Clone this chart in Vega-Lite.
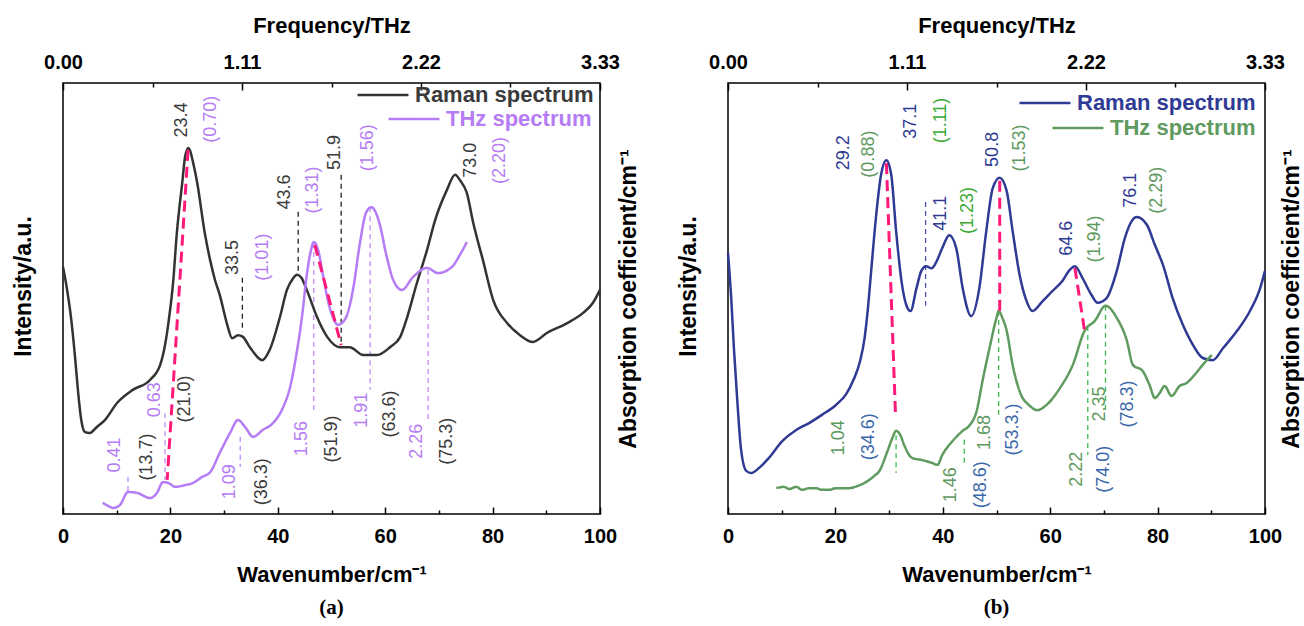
{
  "$schema": "https://vega.github.io/schema/vega-lite/v6.json",
  "background": "white",
  "padding": {"left": 11, "top": 13, "right": 0, "bottom": 0},
  "config": {
    "font": "Liberation Sans",
    "view": {"stroke": "black", "strokeWidth": 1.5},
    "axis": {"grid": false, "domain": false, "labelColor": "black", "titleColor": "black", "tickColor": "black", "tickWidth": 1.5, "labelFont": "Liberation Sans", "titleFont": "Liberation Sans", "labelFlush": false, "labelOverlap": false},
    "legend": {"labelFont": "Liberation Sans", "labelLimit": 0, "padding": 0},
    "concat": {"spacing": 35}
  },
  "datasets": {
    "a_raman": [
      {"wn":0,"y":57.3},{"wn":0.7,"y":52.5},{"wn":1.5,"y":45.5},{"wn":2.2,"y":37.0},{"wn":2.8,"y":28.5},{"wn":3.4,"y":21.8},{"wn":4.1,"y":19.0},{"wn":5.0,"y":18.8},{"wn":6.3,"y":20.2},{"wn":7.8,"y":21.8},{"wn":10.1,"y":25.8},{"wn":13.0,"y":28.8},{"wn":16.2,"y":31.1},{"wn":18.1,"y":34.6},{"wn":19.0,"y":39.2},{"wn":19.7,"y":45.0},{"wn":20.5,"y":53.6},{"wn":21.2,"y":65.2},{"wn":22.2,"y":76.8},{"wn":22.7,"y":82.6},{"wn":23.3,"y":84.9},{"wn":23.6,"y":84.5},{"wn":24.2,"y":81.7},{"wn":25.0,"y":76.8},{"wn":26.4,"y":65.2},{"wn":27.4,"y":58.9},{"wn":28.3,"y":54.3},{"wn":29.2,"y":50.8},{"wn":30.5,"y":44.3},{"wn":31.5,"y":40.8},{"wn":32.6,"y":41.5},{"wn":33.5,"y":41.1},{"wn":34.8,"y":38.7},{"wn":37.1,"y":35.7},{"wn":38.5,"y":38.1},{"wn":40.4,"y":45.7},{"wn":41.7,"y":52.0},{"wn":42.8,"y":54.6},{"wn":43.6,"y":55.5},{"wn":44.4,"y":54.8},{"wn":45.4,"y":52.0},{"wn":47.3,"y":45.7},{"wn":49.2,"y":41.1},{"wn":51.6,"y":38.7},{"wn":53.4,"y":38.7},{"wn":55.9,"y":36.9},{"wn":58.5,"y":36.9},{"wn":60.9,"y":38.7},{"wn":62.8,"y":41.1},{"wn":64.1,"y":45.7},{"wn":65.9,"y":53.6},{"wn":67.8,"y":61.3},{"wn":69.3,"y":68.2},{"wn":71.5,"y":75.2},{"wn":73.0,"y":78.7},{"wn":73.9,"y":77.5},{"wn":75.2,"y":74.5},{"wn":76.4,"y":67.5},{"wn":78.2,"y":58.9},{"wn":80.1,"y":49.7},{"wn":82.7,"y":44.3},{"wn":85.1,"y":41.5},{"wn":87.5,"y":39.9},{"wn":90.1,"y":42.0},{"wn":93.9,"y":44.3},{"wn":96.8,"y":46.6},{"wn":98.7,"y":49.0},{"wn":100,"y":52.0}
    ],
    "a_thz": [
      {"wn":7.4,"y":2.6},{"wn":8.4,"y":1.9},{"wn":9.3,"y":1.4},{"wn":10.6,"y":2.1},{"wn":12.1,"y":5.1},{"wn":13.8,"y":4.9},{"wn":16.2,"y":3.7},{"wn":17.5,"y":4.9},{"wn":18.6,"y":7.4},{"wn":19.6,"y":7.2},{"wn":20.9,"y":6.3},{"wn":22.7,"y":6.7},{"wn":24.2,"y":7.2},{"wn":25.9,"y":8.6},{"wn":27.4,"y":9.7},{"wn":29.2,"y":14.2},{"wn":31.1,"y":18.8},{"wn":32.6,"y":21.8},{"wn":33.9,"y":20.2},{"wn":35.4,"y":17.9},{"wn":37.2,"y":19.5},{"wn":39.1,"y":21.1},{"wn":41.0,"y":24.8},{"wn":42.3,"y":29.5},{"wn":43.6,"y":38.1},{"wn":44.5,"y":45.7},{"wn":45.4,"y":55.5},{"wn":46.2,"y":61.3},{"wn":46.7,"y":63.1},{"wn":47.5,"y":61.3},{"wn":48.4,"y":55.5},{"wn":49.3,"y":49.7},{"wn":50.3,"y":45.5},{"wn":51.2,"y":43.9},{"wn":52.1,"y":44.5},{"wn":52.9,"y":46.2},{"wn":54.0,"y":52.0},{"wn":55.3,"y":62.9},{"wn":56.4,"y":69.8},{"wn":57.4,"y":71.2},{"wn":58.3,"y":69.8},{"wn":59.0,"y":67.1},{"wn":60.3,"y":59.6},{"wn":61.5,"y":54.3},{"wn":63.1,"y":52.0},{"wn":65.2,"y":55.0},{"wn":67.8,"y":57.1},{"wn":69.8,"y":55.9},{"wn":72.4,"y":57.3},{"wn":73.9,"y":60.1},{"wn":75.2,"y":63.1}
    ],
    "a_rules": [
      {"wn":33.4,"y1":54.8,"y2":42.2,"g":"R"},{"wn":43.8,"y1":70.1,"y2":55.9,"g":"R"},{"wn":51.8,"y1":78.7,"y2":39.7,"g":"R"},
      {"wn":12.1,"y1":8.6,"y2":5.1,"g":"T"},{"wn":19.0,"y1":23.4,"y2":7.9,"g":"T"},{"wn":33.0,"y1":17.9,"y2":10.9,"g":"T"},{"wn":46.7,"y1":62.9,"y2":24.1,"g":"T"},{"wn":57.2,"y1":71.2,"y2":28.8,"g":"T"},{"wn":68.0,"y1":56.6,"y2":21.8,"g":"T"}
    ],
    "a_links": [
      {"x1":23.3,"y1":84.5,"x2":19.4,"y2":7.9},{"x1":46.9,"y1":62.4,"x2":51.8,"y2":39.2}
    ],
    "a_labels": [
      {"wn":22.2,"y":91.4,"t":"23.4","g":"R"},{"wn":27.6,"y":91.6,"t":"(0.70)","g":"T"},{"wn":31.7,"y":59.5,"t":"33.5","g":"R"},{"wn":37.2,"y":59.6,"t":"(1.01)","g":"T"},{"wn":41.3,"y":74.7,"t":"43.6","g":"R"},{"wn":46.6,"y":75.2,"t":"(1.31)","g":"T"},{"wn":50.7,"y":83.9,"t":"51.9","g":"R"},{"wn":56.8,"y":85.0,"t":"(1.56)","g":"T"},{"wn":76.0,"y":82.1,"t":"73.0","g":"R"},{"wn":81.4,"y":82.0,"t":"(2.20)","g":"T"},
      {"wn":9.7,"y":13.7,"t":"0.41","g":"T"},{"wn":15.6,"y":13.2,"t":"(13.7)","g":"R"},{"wn":17.1,"y":26.5,"t":"0.63","g":"T"},{"wn":22.7,"y":26.7,"t":"(21.0)","g":"R"},{"wn":31.1,"y":7.5,"t":"1.09","g":"T"},{"wn":37.1,"y":7.5,"t":"(36.3)","g":"R"},{"wn":44.5,"y":17.5,"t":"1.56","g":"T"},{"wn":50.1,"y":17.4,"t":"(51.9)","g":"R"},{"wn":55.7,"y":24.1,"t":"1.91","g":"T"},{"wn":60.9,"y":23.2,"t":"(63.6)","g":"R"},{"wn":65.9,"y":16.9,"t":"2.26","g":"T"},{"wn":71.5,"y":16.9,"t":"(75.3)","g":"R"}
    ],
    "b_raman": [
      {"wn":0,"y":60.6},{"wn":0.6,"y":50.1},{"wn":1.1,"y":38.5},{"wn":1.7,"y":26.9},{"wn":2.4,"y":15.3},{"wn":3.4,"y":10.0},{"wn":4.3,"y":9.5},{"wn":5.8,"y":10.7},{"wn":7.6,"y":13.0},{"wn":10.1,"y":16.9},{"wn":12.7,"y":19.5},{"wn":15.1,"y":21.1},{"wn":17.5,"y":23.0},{"wn":20.1,"y":25.3},{"wn":22.0,"y":27.8},{"wn":23.4,"y":31.2},{"wn":24.6,"y":35.5},{"wn":25.4,"y":40.5},{"wn":26.0,"y":47.0},{"wn":26.6,"y":55.5},{"wn":27.6,"y":69.4},{"wn":28.5,"y":78.7},{"wn":29.5,"y":82.1},{"wn":30.4,"y":78.7},{"wn":31.3,"y":65.7},{"wn":32.3,"y":54.1},{"wn":33.2,"y":48.5},{"wn":34.0,"y":47.1},{"wn":35.1,"y":52.4},{"wn":36.0,"y":56.4},{"wn":36.9,"y":57.5},{"wn":37.9,"y":57.0},{"wn":38.8,"y":58.5},{"wn":39.9,"y":61.7},{"wn":41.2,"y":64.7},{"wn":42.5,"y":61.7},{"wn":43.7,"y":52.4},{"wn":45.3,"y":45.9},{"wn":46.8,"y":52.4},{"wn":48.1,"y":65.7},{"wn":49.3,"y":75.6},{"wn":50.6,"y":78.0},{"wn":51.9,"y":74.9},{"wn":53.0,"y":65.7},{"wn":54.3,"y":55.5},{"wn":55.6,"y":49.4},{"wn":56.7,"y":47.1},{"wn":58.6,"y":49.4},{"wn":60.4,"y":51.7},{"wn":62.3,"y":54.1},{"wn":63.6,"y":56.6},{"wn":64.6,"y":57.5},{"wn":66.0,"y":54.8},{"wn":67.7,"y":50.8},{"wn":68.8,"y":49.0},{"wn":70.5,"y":50.1},{"wn":72.4,"y":56.4},{"wn":73.9,"y":64.0},{"wn":75.2,"y":68.0},{"wn":76.1,"y":68.9},{"wn":78.0,"y":67.1},{"wn":79.5,"y":62.4},{"wn":81.0,"y":57.8},{"wn":82.8,"y":50.1},{"wn":84.7,"y":43.9},{"wn":86.6,"y":39.2},{"wn":88.4,"y":36.2},{"wn":90.3,"y":35.7},{"wn":92.2,"y":38.5},{"wn":94.8,"y":42.5},{"wn":97.2,"y":47.1},{"wn":99.1,"y":52.4},{"wn":100,"y":56.4}
    ],
    "b_thz": [
      {"wn":9.0,"y":6.0},{"wn":10.4,"y":6.3},{"wn":11.4,"y":5.8},{"wn":12.7,"y":6.3},{"wn":13.8,"y":5.6},{"wn":15.1,"y":6.0},{"wn":16.4,"y":6.0},{"wn":17.5,"y":5.6},{"wn":18.8,"y":5.6},{"wn":20.1,"y":6.0},{"wn":21.3,"y":6.0},{"wn":22.6,"y":6.0},{"wn":24.1,"y":6.5},{"wn":25.4,"y":7.2},{"wn":26.3,"y":7.9},{"wn":27.2,"y":8.8},{"wn":28.2,"y":10.0},{"wn":29.7,"y":14.6},{"wn":30.6,"y":17.6},{"wn":31.3,"y":19.3},{"wn":32.1,"y":18.3},{"wn":32.8,"y":16.0},{"wn":34.3,"y":13.0},{"wn":36.2,"y":12.5},{"wn":38.1,"y":11.8},{"wn":39.0,"y":11.4},{"wn":39.9,"y":13.7},{"wn":41.8,"y":16.9},{"wn":43.7,"y":19.3},{"wn":45.0,"y":20.6},{"wn":46.3,"y":23.9},{"wn":47.4,"y":30.9},{"wn":48.7,"y":38.5},{"wn":50.0,"y":45.5},{"wn":50.4,"y":47.1},{"wn":51.1,"y":45.5},{"wn":51.9,"y":42.5},{"wn":53.0,"y":34.6},{"wn":54.3,"y":28.5},{"wn":56.2,"y":25.1},{"wn":57.6,"y":24.1},{"wn":59.3,"y":25.3},{"wn":61.8,"y":29.2},{"wn":64.2,"y":34.6},{"wn":66.4,"y":42.5},{"wn":68.3,"y":44.8},{"wn":70.3,"y":48.3},{"wn":72.4,"y":45.5},{"wn":74.3,"y":40.1},{"wn":75.4,"y":34.6},{"wn":77.2,"y":33.2},{"wn":78.5,"y":29.9},{"wn":79.5,"y":26.9},{"wn":80.4,"y":28.1},{"wn":81.3,"y":29.7},{"wn":82.6,"y":27.4},{"wn":84.1,"y":29.7},{"wn":85.4,"y":30.4},{"wn":86.9,"y":32.3},{"wn":88.4,"y":34.6},{"wn":90.1,"y":36.9}
    ],
    "b_rules": [
      {"wn":36.8,"y1":72.4,"y2":48.3,"g":"R"},
      {"wn":31.3,"y1":18.3,"y2":9.5,"g":"T"},{"wn":44.0,"y1":17.2,"y2":11.8,"g":"T"},{"wn":50.4,"y1":47.1,"y2":23.0,"g":"T"},{"wn":67.0,"y1":43.6,"y2":13.7,"g":"T"},{"wn":70.3,"y1":48.3,"y2":23.9,"g":"T"}
    ],
    "b_links": [
      {"x1":29.5,"y1":81.4,"x2":31.2,"y2":22.7},{"x1":50.6,"y1":77.3,"x2":50.6,"y2":47.1},{"x1":64.6,"y1":57.1,"x2":66.4,"y2":42.5}
    ],
    "b_labels": [
      {"wn":21.6,"y":83.8,"t":"29.2","g":"R"},{"wn":26.3,"y":83.5,"t":"(0.88)","g":"T"},{"wn":34.1,"y":91.1,"t":"37.1","g":"R"},{"wn":39.6,"y":91.3,"t":"(1.11)","g":"Tb"},{"wn":39.6,"y":69.8,"t":"41.1","g":"R"},{"wn":44.6,"y":70.4,"t":"(1.23)","g":"Tb"},{"wn":49.3,"y":84.6,"t":"50.8","g":"R"},{"wn":54.3,"y":84.9,"t":"(1.53)","g":"T"},{"wn":63.2,"y":64.0,"t":"64.6","g":"R"},{"wn":68.3,"y":63.8,"t":"(1.94)","g":"T"},{"wn":75.0,"y":75.1,"t":"76.1","g":"R"},{"wn":79.9,"y":75.1,"t":"(2.29)","g":"T"},
      {"wn":20.7,"y":17.7,"t":"1.04","g":"T"},{"wn":26.3,"y":17.9,"t":"(34.6)","g":"Rb"},{"wn":41.6,"y":6.8,"t":"1.46","g":"T"},{"wn":47.2,"y":6.8,"t":"(48.6)","g":"Rb"},{"wn":47.8,"y":18.9,"t":"1.68","g":"T"},{"wn":53.0,"y":19.6,"t":"(53.3.)","g":"Rb"},{"wn":64.9,"y":10.4,"t":"2.22","g":"T"},{"wn":70.1,"y":10.4,"t":"(74.0)","g":"Rb"},{"wn":69.2,"y":25.5,"t":"2.35","g":"T"},{"wn":74.4,"y":25.5,"t":"(78.3)","g":"Rb"}
    ]
  },
  "resolve": {"scale": {"color": "independent", "fill": "independent", "stroke": "independent", "strokeDash": "independent"}},
  "hconcat": [
    {
      "width": 537, "height": 431,
      "title": {"text": "(a)", "orient": "bottom", "font": "Liberation Serif", "fontSize": 21, "fontWeight": "bold", "offset": 12, "color": "black"},
      "resolve": {"axis": {"x": "independent", "y": "independent"}},
      "layer": [
        {
          "data": {"name": "a_rules"},
          "mark": {"type": "rule", "strokeDash": [5, 4], "strokeWidth": 1.3},
          "encoding": {
            "x": {"field": "wn", "type": "quantitative", "scale": {"domain": [0, 100], "nice": false, "zero": false}, "axis": null},
            "y": {"field": "y1", "type": "quantitative", "scale": {"domain": [0, 100], "nice": false, "zero": false}, "axis": null},
            "y2": {"field": "y2"},
            "stroke": {"field": "g", "type": "nominal", "scale": {"domain": ["R", "T"], "range": ["#222222", "#c08af8"]}, "legend": null}
          }
        },
        {
          "data": {"name": "a_raman"},
          "mark": {"type": "line", "strokeWidth": 2.5, "interpolate": "monotone"},
          "encoding": {
            "x": {"field": "wn", "type": "quantitative", "scale": {"domain": [0, 100], "nice": false, "zero": false},
              "axis": {"orient": "bottom", "values": [0, 10, 20, 30, 40, 50, 60, 70, 80, 90, 100], "format": "d",
                "labelExpr": "datum.value % 20 === 0 ? datum.label : ''",
                "tickSize": {"condition": {"test": "datum.value % 20 === 0", "value": -7}, "value": -4},
                "labelPadding": 19, "labelFontSize": 20, "labelFontWeight": "bold",
                "title": "Wavenumber/cm⁻¹", "titleFontSize": 22, "titleFontWeight": "bold", "titlePadding": 15}},
            "y": {"field": "y", "type": "quantitative", "scale": {"domain": [0, 100], "nice": false, "zero": false},
              "axis": {"orient": "left", "labels": false, "ticks": false, "title": "Intensity/a.u.", "titleFontSize": 23, "titleFontWeight": "bold", "titlePadding": 28, "titleY": 203}},
            "color": {"datum": "Raman spectrum", "type": "nominal", "scale": {"domain": ["Raman spectrum"], "range": ["#333333"]},
              "legend": {"orient": "none", "legendX": 293, "legendY": -15, "title": null, "symbolType": "stroke", "symbolSize": 2600, "symbolStrokeWidth": 2.5, "labelFontSize": 22, "labelFontWeight": "bold", "labelColor": "#3a3a3a", "labelOffset": 5}}
          }
        },
        {
          "data": {"name": "a_thz"},
          "mark": {"type": "line", "strokeWidth": 2.5, "interpolate": "monotone", "color": "#b57cf5"},
          "encoding": {
            "x": {"field": "wn", "type": "quantitative", "scale": {"domain": [0, 100], "nice": false, "zero": false},
              "axis": {"orient": "top", "values": [0, 16.6667, 33.3333, 50, 66.6667, 83.3333, 100],
                "labelExpr": "datum.value < 1 ? '0.00' : abs(datum.value - 33.3333) < 0.01 ? '1.11' : abs(datum.value - 66.6667) < 0.01 ? '2.22' : datum.value > 99 ? '3.33' : ''",
                "tickSize": {"condition": {"test": "datum.value < 1 || abs(datum.value - 33.3333) < 0.01 || abs(datum.value - 66.6667) < 0.01 || datum.value > 99", "value": -7}, "value": -4},
                "labelPadding": 18, "labelFontSize": 20, "labelFontWeight": "bold",
                "title": "Frequency/THz", "titleFontSize": 22, "titleFontWeight": "bold", "titlePadding": 12}},
            "y": {"field": "y", "type": "quantitative", "scale": {"domain": [0, 100], "nice": false, "zero": false},
              "axis": {"orient": "right", "labels": false, "ticks": false, "title": "Absorption coefficient/cm⁻¹", "titleAngle": 270, "titleBaseline": "top", "titleFontSize": 23, "titleFontWeight": "bold", "titlePadding": 17}},
            "strokeDash": {"datum": "THz spectrum", "type": "nominal", "scale": {"domain": ["THz spectrum"], "range": [[1, 0]]},
              "legend": {"orient": "none", "legendX": 324, "legendY": 9, "title": null, "symbolType": "stroke", "symbolSize": 2600, "symbolStrokeWidth": 2.5, "symbolStrokeColor": "#b57cf5", "labelFontSize": 22, "labelFontWeight": "bold", "labelColor": "#b57cf5", "labelOffset": 5}}
          }
        },
        {
          "data": {"name": "a_links"},
          "mark": {"type": "rule", "color": "#ff1a7a", "strokeWidth": 3, "strokeDash": [11, 6]},
          "encoding": {
            "x": {"field": "x1", "type": "quantitative", "scale": {"domain": [0, 100], "nice": false, "zero": false}, "axis": null},
            "y": {"field": "y1", "type": "quantitative", "scale": {"domain": [0, 100], "nice": false, "zero": false}, "axis": null},
            "x2": {"field": "x2"},
            "y2": {"field": "y2"}
          }
        },
        {
          "data": {"name": "a_labels"},
          "mark": {"type": "text", "angle": 270, "align": "center", "baseline": "middle", "fontSize": 18, "font": "Liberation Sans"},
          "encoding": {
            "x": {"field": "wn", "type": "quantitative", "scale": {"domain": [0, 100], "nice": false, "zero": false}, "axis": null},
            "y": {"field": "y", "type": "quantitative", "scale": {"domain": [0, 100], "nice": false, "zero": false}, "axis": null},
            "text": {"field": "t"},
            "fill": {"field": "g", "type": "nominal", "scale": {"domain": ["R", "T"], "range": ["#3a3a3a", "#b57cf5"]}, "legend": null}
          }
        }
      ]
    },
    {
      "width": 537, "height": 431,
      "title": {"text": "(b)", "orient": "bottom", "font": "Liberation Serif", "fontSize": 21, "fontWeight": "bold", "offset": 12, "color": "black"},
      "resolve": {"axis": {"x": "independent", "y": "independent"}},
      "layer": [
        {
          "data": {"name": "b_rules"},
          "mark": {"type": "rule", "strokeDash": [5, 4], "strokeWidth": 1.3},
          "encoding": {
            "x": {"field": "wn", "type": "quantitative", "scale": {"domain": [0, 100], "nice": false, "zero": false}, "axis": null},
            "y": {"field": "y1", "type": "quantitative", "scale": {"domain": [0, 100], "nice": false, "zero": false}, "axis": null},
            "y2": {"field": "y2"},
            "stroke": {"field": "g", "type": "nominal", "scale": {"domain": ["R", "T"], "range": ["#4a55a8", "#3dbb4f"]}, "legend": null}
          }
        },
        {
          "data": {"name": "b_raman"},
          "mark": {"type": "line", "strokeWidth": 2.5, "interpolate": "monotone"},
          "encoding": {
            "x": {"field": "wn", "type": "quantitative", "scale": {"domain": [0, 100], "nice": false, "zero": false},
              "axis": {"orient": "bottom", "values": [0, 10, 20, 30, 40, 50, 60, 70, 80, 90, 100], "format": "d",
                "labelExpr": "datum.value % 20 === 0 ? datum.label : ''",
                "tickSize": {"condition": {"test": "datum.value % 20 === 0", "value": -7}, "value": -4},
                "labelPadding": 19, "labelFontSize": 20, "labelFontWeight": "bold",
                "title": "Wavenumber/cm⁻¹", "titleFontSize": 22, "titleFontWeight": "bold", "titlePadding": 15}},
            "y": {"field": "y", "type": "quantitative", "scale": {"domain": [0, 100], "nice": false, "zero": false},
              "axis": {"orient": "left", "labels": false, "ticks": false, "title": "Intensity/a.u.", "titleFontSize": 23, "titleFontWeight": "bold", "titlePadding": 28, "titleY": 203}},
            "color": {"datum": "Raman spectrum", "type": "nominal", "scale": {"domain": ["Raman spectrum"], "range": ["#2f3a94"]},
              "legend": {"orient": "none", "legendX": 290, "legendY": -7, "title": null, "symbolType": "stroke", "symbolSize": 2600, "symbolStrokeWidth": 2.5, "labelFontSize": 22, "labelFontWeight": "bold", "labelColor": "#2f3a94", "labelOffset": 5}}
          }
        },
        {
          "data": {"name": "b_thz"},
          "mark": {"type": "line", "strokeWidth": 2.5, "interpolate": "monotone", "color": "#5f9a5f"},
          "encoding": {
            "x": {"field": "wn", "type": "quantitative", "scale": {"domain": [0, 100], "nice": false, "zero": false},
              "axis": {"orient": "top", "values": [0, 16.6667, 33.3333, 50, 66.6667, 83.3333, 100],
                "labelExpr": "datum.value < 1 ? '0.00' : abs(datum.value - 33.3333) < 0.01 ? '1.11' : abs(datum.value - 66.6667) < 0.01 ? '2.22' : datum.value > 99 ? '3.33' : ''",
                "tickSize": {"condition": {"test": "datum.value < 1 || abs(datum.value - 33.3333) < 0.01 || abs(datum.value - 66.6667) < 0.01 || datum.value > 99", "value": -7}, "value": -4},
                "labelPadding": 18, "labelFontSize": 20, "labelFontWeight": "bold",
                "title": "Frequency/THz", "titleFontSize": 22, "titleFontWeight": "bold", "titlePadding": 12}},
            "y": {"field": "y", "type": "quantitative", "scale": {"domain": [0, 100], "nice": false, "zero": false},
              "axis": {"orient": "right", "labels": false, "ticks": false, "title": "Absorption coefficient/cm⁻¹", "titleAngle": 270, "titleBaseline": "top", "titleFontSize": 23, "titleFontWeight": "bold", "titlePadding": 15}},
            "strokeDash": {"datum": "THz spectrum", "type": "nominal", "scale": {"domain": ["THz spectrum"], "range": [[1, 0]]},
              "legend": {"orient": "none", "legendX": 323, "legendY": 18, "title": null, "symbolType": "stroke", "symbolSize": 2600, "symbolStrokeWidth": 2.5, "symbolStrokeColor": "#5f9a5f", "labelFontSize": 22, "labelFontWeight": "bold", "labelColor": "#5f9a5f", "labelOffset": 5}}
          }
        },
        {
          "data": {"name": "b_links"},
          "mark": {"type": "rule", "color": "#ff1a7a", "strokeWidth": 3, "strokeDash": [11, 6]},
          "encoding": {
            "x": {"field": "x1", "type": "quantitative", "scale": {"domain": [0, 100], "nice": false, "zero": false}, "axis": null},
            "y": {"field": "y1", "type": "quantitative", "scale": {"domain": [0, 100], "nice": false, "zero": false}, "axis": null},
            "x2": {"field": "x2"},
            "y2": {"field": "y2"}
          }
        },
        {
          "data": {"name": "b_labels"},
          "mark": {"type": "text", "angle": 270, "align": "center", "baseline": "middle", "fontSize": 18, "font": "Liberation Sans"},
          "encoding": {
            "x": {"field": "wn", "type": "quantitative", "scale": {"domain": [0, 100], "nice": false, "zero": false}, "axis": null},
            "y": {"field": "y", "type": "quantitative", "scale": {"domain": [0, 100], "nice": false, "zero": false}, "axis": null},
            "text": {"field": "t"},
            "fill": {"field": "g", "type": "nominal", "scale": {"domain": ["R", "T", "Tb", "Rb"], "range": ["#2f3a94", "#5e995e", "#3aa935", "#3a68aa"]}, "legend": null}
          }
        }
      ]
    }
  ]
}
